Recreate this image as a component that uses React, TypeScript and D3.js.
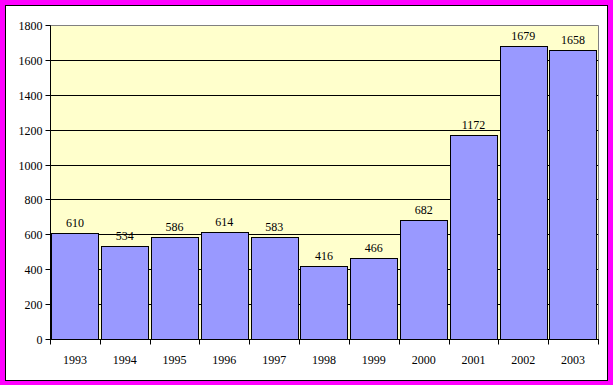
import * as d3 from "d3";
import { useRef, useEffect } from "react";

const years = ["1993", "1994", "1995", "1996", "1997", "1998", "1999", "2000", "2001", "2002", "2003"];
const values = [610, 534, 586, 614, 583, 416, 466, 682, 1172, 1679, 1658];
const yTicks = [0, 200, 400, 600, 800, 1000, 1200, 1400, 1600, 1800];

const W = 613;
const H = 385;

export default function App() {
  const ref = useRef<SVGSVGElement>(null);

  useEffect(() => {
    if (!ref.current) return;
    const svg = d3.select(ref.current);
    svg.selectAll("*").remove();

    const plot = { left: 50, top: 25, right: 598, bottom: 339 };
    const font = "'Liberation Serif', 'Times New Roman', serif";

    // Outer frame
    svg.append("rect").attr("width", W).attr("height", H).attr("fill", "#ff00ff");
    svg
      .append("rect")
      .attr("x", 5.5)
      .attr("y", 5.5)
      .attr("width", 602)
      .attr("height", 375)
      .attr("fill", "#ffffff")
      .attr("stroke", "#000000");

    const x = d3
      .scaleBand()
      .domain(years)
      .range([plot.left, plot.right])
      .paddingInner(0.05)
      .paddingOuter(0.025);

    const bands = d3.scaleBand().domain(years).range([plot.left, plot.right]);

    const y = d3.scaleLinear().domain([0, 1800]).range([plot.bottom, plot.top]);

    // Plot background
    svg
      .append("rect")
      .attr("x", plot.left)
      .attr("y", plot.top + 0.5)
      .attr("width", plot.right - plot.left)
      .attr("height", plot.bottom - plot.top)
      .attr("fill", "#ffffcc");

    // Gridlines
    svg
      .append("g")
      .selectAll("line")
      .data(yTicks.filter((t) => t > 0 && t < 1800))
      .enter()
      .append("line")
      .attr("x1", plot.left)
      .attr("x2", plot.right)
      .attr("y1", (d) => Math.round(y(d)) + 0.5)
      .attr("y2", (d) => Math.round(y(d)) + 0.5)
      .attr("stroke", "#000000");

    // Plot border (top/right gray)
    svg
      .append("path")
      .attr("d", `M${plot.left},${plot.top + 0.5}H${plot.right + 0.5}V${plot.bottom}`)
      .attr("fill", "none")
      .attr("stroke", "#808080");

    // Bars
    svg
      .append("g")
      .selectAll("rect")
      .data(values)
      .enter()
      .append("rect")
      .attr("x", (_, i) => Math.round(x(years[i]) || 0) + 0.5)
      .attr("y", (d) => Math.round(y(d)) + 0.5)
      .attr("width", Math.round(x.bandwidth()))
      .attr("height", (d) => Math.round(plot.bottom - y(d)))
      .attr("fill", "#9999ff")
      .attr("stroke", "#000000");

    // Value labels
    svg
      .append("g")
      .selectAll("text")
      .data(values)
      .enter()
      .append("text")
      .attr("x", (_, i) => (x(years[i]) || 0) + x.bandwidth() / 2)
      .attr("y", (d) => y(d) - 6)
      .attr("text-anchor", "middle")
      .attr("font-family", font)
      .attr("font-size", "12px")
      .attr("fill", "#000000")
      .text((d) => d);

    // Y axis
    const yAxis = svg.append("g").attr("transform", `translate(${plot.left + 0.5},0.5)`);
    yAxis
      .append("line")
      .attr("x1", 0)
      .attr("x2", 0)
      .attr("y1", plot.top)
      .attr("y2", plot.bottom)
      .attr("stroke", "#000000");
    const yt = yAxis
      .selectAll("g")
      .data(yTicks)
      .enter()
      .append("g")
      .attr("transform", (d) => `translate(0,${Math.round(y(d))})`);
    yt.append("line").attr("x1", -5).attr("x2", 0).attr("stroke", "#000000");
    yt.append("text")
      .attr("x", -8)
      .attr("dy", "0.35em")
      .attr("text-anchor", "end")
      .attr("font-family", font)
      .attr("font-size", "12px")
      .attr("fill", "#000000")
      .text((d) => d);

    // X axis
    const xAxis = svg.append("g").attr("transform", `translate(0,${plot.bottom + 0.5})`);
    xAxis
      .append("line")
      .attr("x1", plot.left)
      .attr("x2", plot.right + 1)
      .attr("stroke", "#000000");
    xAxis
      .selectAll(".tick")
      .data(years.concat(["end"]))
      .enter()
      .append("line")
      .attr("x1", (d, i) => Math.round(i < years.length ? bands(d) || 0 : plot.right) + 0.5)
      .attr("x2", (d, i) => Math.round(i < years.length ? bands(d) || 0 : plot.right) + 0.5)
      .attr("y1", 0)
      .attr("y2", 5)
      .attr("stroke", "#000000");
    xAxis
      .selectAll("text")
      .data(years)
      .enter()
      .append("text")
      .attr("x", (d) => (bands(d) || 0) + bands.bandwidth() / 2)
      .attr("y", 24)
      .attr("text-anchor", "middle")
      .attr("font-family", font)
      .attr("font-size", "12px")
      .attr("fill", "#000000")
      .text((d) => d);
  }, []);

  return (
    <div style={{ position: "absolute", left: 0, top: 0 }}>
      <svg ref={ref} width={W} height={H} style={{ display: "block" }} />
    </div>
  );
}
